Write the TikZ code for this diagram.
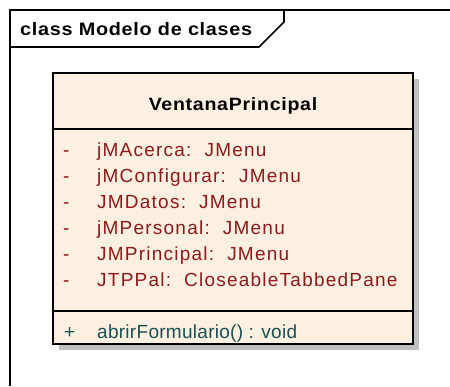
\documentclass[tikz,border=0pt]{standalone}
\usepackage{fontspec}
\setmainfont{Liberation Sans}
\newfontfamily\umlfont[LetterSpace=6.5]{Liberation Sans}
\newfontfamily\umlopfont[LetterSpace=1.5]{Liberation Sans}
\newfontfamily\umlbold[FakeStretch=1.1,LetterSpace=4]{Liberation Sans Bold}
\usetikzlibrary{positioning}
\definecolor{classfill}{HTML}{FBF0E2}
\definecolor{attrred}{HTML}{8E1A1A}
\definecolor{opteal}{HTML}{1C5050}
\definecolor{shadowgray}{HTML}{C0C0C0}
\begin{document}
\begin{tikzpicture}[
    x=1pt, y=-1pt,
    frame/.style={line width=1.6pt, black},
    classbox/.style={draw=black, line width=1.4pt, fill=classfill},
    title/.style={anchor=base west, inner sep=0pt, font=\umlbold\fontsize{18}{21}\selectfont},
    classname/.style={anchor=base, inner sep=0pt, font=\umlbold\fontsize{17.8}{22}\selectfont},
    attr/.style={anchor=base west, inner sep=0pt, text=attrred, font=\umlfont\fontsize{19}{22}\selectfont},
    oper/.style={anchor=base west, inner sep=0pt, text=opteal, font=\umlopfont\fontsize{19}{22}\selectfont}
]

\useasboundingbox (0,0) rectangle (450,386);

% Frame of the diagram
\draw[frame] (450,10) -- (10,10) -- (10,386);
\draw[frame] (10,47) -- (259,47) -- (284,22) -- (284,10);
\node[title] (frametitle) at (20,35) {class Modelo de clases};

% Class box with shadow
\fill[shadowgray] (59,79) rectangle (419,350);
\draw[classbox] (53,73) rectangle (413,344);
\draw[line width=1.2pt] (53,129) -- (413,129);
\draw[line width=1.2pt] (53,311) -- (413,311);

\node[classname] (cname) at (233,110) {VentanaPrincipal};

% Attributes
\foreach \i/\txt in {0/{jMAcerca:\ \ JMenu}, 1/{jMConfigurar:\ \ JMenu}, 2/{JMDatos:\ \ JMenu},
                     3/{jMPersonal:\ \ JMenu}, 4/{JMPrincipal:\ \ JMenu}, 5/{JTPPal:\ \ CloseableTabbedPane}} {
  \node[attr] (vis\i) at (63,156+26*\i) {-};
  \node[attr] (attr\i) at (97,156+26*\i) {\txt};
}

% Operations
\node[oper] (opvis) at (64,338) {+};
\node[oper] (op) at (97,338) {abrirFormulario() : void};

\end{tikzpicture}
\end{document}
